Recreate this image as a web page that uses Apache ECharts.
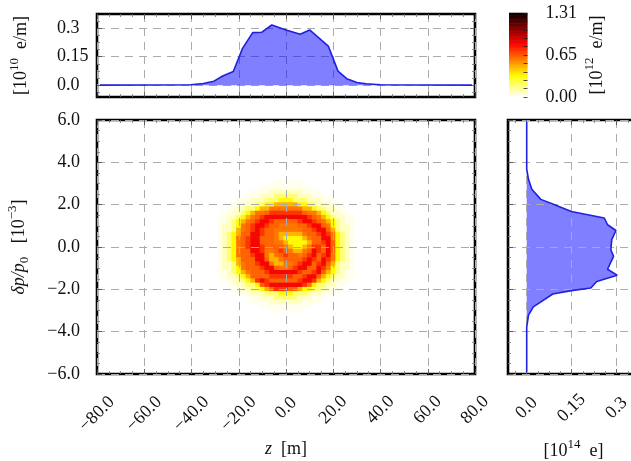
<!DOCTYPE html>
<html><head><meta charset="utf-8">
<style>html,body{margin:0;padding:0;background:#fff;overflow:hidden}#c{width:631px;height:461px}</style>
<script src="https://cdn.jsdelivr.net/npm/echarts@6/dist/echarts.min.js"></script>
</head><body><div id="c"></div>
<script>
// z-profile (top panel)
const zLine = [-78.8,-40.3,-35,-30.5,-26.8,-22.3,-18.4,-14.1,-10.2,-6,0,6,10,17.9,22,25.7,30,34,40,78.7];
const zDensity = [0,0.002,0.009,0.021,0.048,0.072,0.194,0.277,0.279,0.317,0.291,0.268,0.291,0.206,0.074,0.034,0.014,0.007,0.002,0];
// momentum profile (right panel)
const pLine = [5.9,3.68,3.2,2.73,2.25,2.02,1.68,1.37,1.05,0.78,0.35,-0.13,-0.44,-1.05,-1.33,-1.63,-1.94,-2.06,-2.22,-2.83,-3.22,-3.78,-5.9];
const pCharge = [0,0,0.006,0.017,0.047,0.089,0.149,0.259,0.27,0.298,0.284,0.281,0.29,0.27,0.302,0.234,0.214,0.149,0.087,0.022,0.006,0,0];
// heat map: one digit per cell, rows top (p=3.2) to bottom (p=-3.2), columns z=-30..30
const zCellStart = -30, zCellStep = 2, pCellStart = 3.2, pCellStep = 0.2;
const levelValues = [0,0.025,0.08,0.18,0.34,0.48,0.6,0.64,0.73,0.84];
const densityRows = [
"0000000000000000000000000000000",
"0000000000001111111000000000000",
"0000000000111111111110000000000",
"0000000011112222222111100000000",
"0000000111222333332221110000000",
"0000011122233344433322211100000",
"0000112223344555554433222110000",
"0001122334556666666554332211000",
"0011223456678888888766543221100",
"0112234567899999999987654322110",
"0112345678998777778998765432110",
"0122346789987766667789976432210",
"0122356789877666666778997532210",
"0123457799877655555677898643210",
"0123467899777654444567799643210",
"0123467899777665444457789743210",
"0123467899877776544568879743210",
"0123467799866787655679879743210",
"0123467789965678776789789643210",
"0123457779975567777898798643210",
"0122356778996556678997897532210",
"0122346777899766789977986432210",
"0112345677789999998778975432110",
"0112234577778888877899754322110",
"0011223458987777778998543221100",
"0001122334789999999864332211000",
"0000112233457888775443322110000",
"0000011122233344433322211100000",
"0000000111222333332221110000000",
"0000000011112222222111100000000",
"0000000000111111111110000000000",
"0000000000001111111000000000000",
"0000000000000000000000000000000"
];
// colour bar
const barLevels = [];
for (let k = 0; k < 64; k++) barLevels.push(1.31 * (k + 0.5) / 64);
const barMajor = [0, 0.65, 1.31];
const barTicks = [0,0.131,0.262,0.393,0.524,0.65,0.786,0.917,1.048,1.179,1.31];
// axis ticks
const zTicks = [-80,-60,-40,-20,0,20,40,60,80];
const pTicks = [-6,-4,-2,0,2,4,6];
const profileTicks = [0,0.15,0.3];
const profileLabels = {0:'0.0',0.15:'0.15',0.3:'0.3'};
const hotColors = ['#ffffff','#ffff82','#ffff04','#ffae00','#ff5a00','#ff0700','#b20000','#5e0000','#0b0000'];

const FF = '"Liberation Serif",serif', FS = 18, INK = '#111';
const BLUE = '#2020e0', FILL = 'rgba(0,0,255,0.5)', GRIDC = '#ababab';
const minors = (lo, hi, st, major) => { const o = []; const n = Math.round((hi - lo) / st);
  for (let i = 0; i <= n; i++) { const v = +(lo + i * st).toFixed(5); if (!major.some(m => Math.abs(m - v) < 1e-6)) o.push(v); } return o; };
const fmt1 = v => (v < 0 ? '\u2212' : '') + Math.abs(v).toFixed(1);
const rich = { t:{fontFamily:FF,fontSize:FS,color:INK}, i:{fontFamily:FF,fontSize:FS,fontStyle:'italic',color:INK},
  s:{fontFamily:FF,fontSize:13,color:INK,padding:[0,0,14,0]}, d:{fontFamily:FF,fontSize:13,color:INK,padding:[10,0,0,0]} };

const grid = [], xAxis = [], yAxis = [], series = [];
function blank(dim, pos, g, min, max) {
  return { type:'value', gridIndex:g, position:pos, min, max, z:3, silent:true,
    axisLine:{show:false,onZero:false}, axisTick:{show:false}, axisLabel:{show:false}, splitLine:{show:false}, minorTick:{show:false} };
}
function addGrid(rect, border) {
  grid.push(Object.assign({ containLabel:false, outerBoundsMode:'none', show:!!border, borderColor:'#000', borderWidth:border?2.6:0, backgroundColor:'transparent' }, rect));
  return grid.length - 1;
}
const tick = (vals, len) => ({ show:true, inside:true, length:len, customValues:vals, lineStyle:{color:len>3?'#444':'#777',width:0.8} });
// panel: frame, dashed grid, major and minor ticks on all sides
function panel(rect, xr, yr, xMaj, yMaj, xMin, yMin, xOpt, yOpt) {
  const g = addGrid(rect, true);
  const split = { show:true, lineStyle:{color:GRIDC,type:[8,6],width:1} };
  xAxis.push(Object.assign(blank('x','bottom',g,xr[0],xr[1]), {axisTick:tick(xMaj,5), splitLine:split}, xOpt||{}));
  yAxis.push(Object.assign(blank('y','left',g,yr[0],yr[1]), {axisTick:tick(yMaj,5), splitLine:split}, yOpt||{}));
  [['top','right',xMaj,yMaj,5],['bottom','left',xMin,yMin,3],['top','right',xMin,yMin,3]].forEach(a => {
    const h = addGrid(rect, false);
    xAxis.push(Object.assign(blank('x',a[0],h,xr[0],xr[1]), {axisTick:tick(a[2],a[4])}));
    yAxis.push(Object.assign(blank('y',a[1],h,yr[0],yr[1]), {axisTick:tick(a[3],a[4])}));
  });
  return g;
}
function labelGrid(rect, xr, yr, vals, margin, fmt) {
  const h = addGrid(rect, false);
  xAxis.push(Object.assign(blank('x','bottom',h,xr[0],xr[1]), { axisLabel:{show:true, customValues:vals, rotate:45, margin,
    align:'center', verticalAlign:'middle', fontFamily:FF, fontSize:FS, color:INK, formatter:fmt} }));
  yAxis.push(blank('y','left',h,yr[0],yr[1]));
}
const zR = [-80,80], pR = [-6,6], profR = [-0.0625,0.375];
const profMinor = minors(-0.0375,0.3375,0.0375,profileTicks);
const zMinor = minors(-80,80,5,zTicks), pMinor = minors(-6,6,0.5,pTicks);
const rTop = {left:97,top:14,width:378,height:83}, rMain = {left:97,top:120,width:378,height:254}, rSide = {left:508,top:120,width:131,height:254};

const gTop = panel(rTop, zR, profR, zTicks, profileTicks, zMinor, profMinor, null, {
  name:'{t|[10}{s|10}{t|  e/m]}', nameLocation:'middle', nameGap:62, nameRotate:90, nameTextStyle:{rich, fontFamily:FF},
  axisLabel:{show:true, customValues:profileTicks, margin:40, align:'left', fontFamily:FF, fontSize:FS, color:INK, formatter:v=>profileLabels[v]} });
const gMain = panel(rMain, zR, pR, zTicks, pTicks, zMinor, pMinor, {
  name:'{i|z}{t|  [m]}', nameLocation:'middle', nameGap:66, nameTextStyle:{rich, fontFamily:FF}
}, {
  name:'{i|\u03b4p/p}{d|0}{t|   [10}{s|\u22123}{t|]}', nameLocation:'middle', nameGap:64, nameRotate:90, nameTextStyle:{rich, fontFamily:FF},
  axisLabel:{show:true, customValues:pTicks, margin:17, fontFamily:FF, fontSize:FS, color:INK, formatter:fmt1} });
const gSide = panel(rSide, profR, pR, profileTicks, pTicks, profMinor, pMinor, {
  name:'{t|[10}{s|14}{t|  e]}', nameLocation:'middle', nameGap:64, nameTextStyle:{rich, fontFamily:FF}
}, null);
labelGrid(rMain, zR, pR, [-80,-60,-40,-20], 40, fmt1);
labelGrid(rMain, zR, pR, [20,40,60,80], 36, fmt1);
labelGrid(rMain, zR, pR, [0], 34, fmt1);
labelGrid(rSide, profR, pR, profileTicks, 34, v=>profileLabels[v]);

// colour bar panel
const gBar = addGrid({left:509,top:13,width:18.5,height:84}, false);
xAxis.push(blank('x','bottom',gBar,0,1));
yAxis.push(Object.assign(blank('y','right',gBar,0,1.31), {
  axisTick:{show:true, inside:true, length:4, customValues:barTicks, lineStyle:{color:'#222',width:0.8}},
  axisLabel:{show:true, customValues:barMajor, margin:18, align:'left', fontFamily:FF, fontSize:FS, color:INK, formatter:v=>v.toFixed(2)},
  name:'{t|[10}{s|12}{t|  e/m]}', nameLocation:'middle', nameGap:56, nameRotate:90, nameTextStyle:{rich, fontFamily:FF} }));

const axisIdx = g => ({ xAxisIndex:xAxis.findIndex(a=>a.gridIndex===g), yAxisIndex:yAxis.findIndex(a=>a.gridIndex===g) });

const heatData = [];
densityRows.forEach((row,i) => { for (let j=0;j<row.length;j++)
  heatData.push([zCellStart+j*zCellStep, +(pCellStart-i*pCellStep).toFixed(2), levelValues[+row[j]]]); });

series.push(Object.assign({ type:'custom', z:2, silent:true, data:heatData, encode:{x:0,y:1}, dimensions:['z','p','v'],
  renderItem(params, api) {
    const c = api.coord([api.value(0),api.value(1)]), s = api.size([zCellStep,pCellStep]);
    return { type:'rect', shape:{x:c[0]-s[0]/2-0.3,y:c[1]-s[1]/2-0.3,width:s[0]+0.6,height:s[1]+0.6}, style:{fill:api.visual('color')} };
  } }, axisIdx(gMain)));
const stepBar = 1.31/64;
series.push(Object.assign({ type:'custom', z:2, silent:true, data:barLevels.map(v=>[0.5,v,v]), encode:{x:0,y:1}, dimensions:['a','b','v'],
  renderItem(params, api) {
    const c = api.coord([0,api.value(1)]), e = api.coord([1,api.value(1)]), s = api.size([1,stepBar]);
    return { type:'rect', shape:{x:c[0],y:c[1]-s[1]/2-0.3,width:e[0]-c[0],height:s[1]+0.6}, style:{fill:api.visual('color')} };
  } }, axisIdx(gBar)));
series.push(Object.assign({ type:'line', z:5, silent:true, symbol:'none', showSymbol:false, data:zLine.map((z,i)=>[z,zDensity[i]]),
  lineStyle:{color:BLUE,width:1.6}, areaStyle:{color:FILL,opacity:1}, itemStyle:{color:BLUE} }, axisIdx(gTop)));
series.push(Object.assign({ type:'custom', z:2, silent:true, data:pLine.map((p,i)=>[pCharge[i],p]), encode:{x:0,y:1},
  renderItem(params, api) {
    if (params.dataIndex !== 0) return null;
    const pts = [api.coord([0,pLine[0]])];
    pLine.forEach((p,i)=>pts.push(api.coord([pCharge[i],p])));
    pts.push(api.coord([0,pLine[pLine.length-1]]));
    return { type:'polygon', shape:{points:pts}, style:{fill:FILL} };
  } }, axisIdx(gSide)));
series.push(Object.assign({ type:'line', z:5, silent:true, symbol:'none', showSymbol:false, data:pLine.map((p,i)=>[pCharge[i],p]),
  lineStyle:{color:BLUE,width:1.6}, itemStyle:{color:BLUE} }, axisIdx(gSide)));

const chart = echarts.init(document.getElementById('c'), null, {renderer:'canvas'});
chart.setOption({ animation:false, backgroundColor:'#fff', grid, xAxis, yAxis, series,
  visualMap:{ type:'continuous', show:false, min:0, max:1.31, dimension:2, seriesIndex:[0,1], inRange:{color:hotColors} } });
</script></body></html>
